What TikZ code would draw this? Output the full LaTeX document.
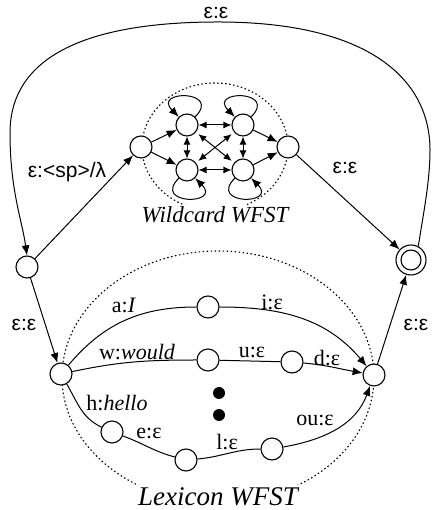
\documentclass[tikz,border=0pt]{standalone}
\usepackage{fontspec}
\setmainfont{Liberation Serif}
\newfontfamily\lblsans{Liberation Sans}
\usetikzlibrary{arrows.meta}

\begin{document}
\begin{tikzpicture}[x=1pt,y=1pt,
  state/.style={circle, draw, line width=1.1pt, minimum size=22pt, inner sep=0pt, fill=white},
  dotnode/.style={circle, fill=black, minimum size=12pt, inner sep=0pt},
  tr/.style={line width=1pt, -{Latex[length=10pt,width=8pt]}},
  bitr/.style={line width=1pt, {Latex[length=8pt,width=7pt]}-{Latex[length=8pt,width=7pt]}},
  plain/.style={line width=1pt},
  region/.style={line width=1.1pt, dash pattern=on 1.5pt off 2.5pt},
  sanslbl/.style={font=\lblsans\fontsize{21}{24}\selectfont, inner sep=0pt},
  serlbl/.style={font=\fontsize{22}{26}\selectfont, inner sep=0pt},
  wtitle/.style={font=\itshape\fontsize{23}{27}\selectfont, fill=white, inner sep=2pt},
  ltitle/.style={font=\itshape\fontsize{27}{31}\selectfont, fill=white, inner sep=2.5pt}
]
\useasboundingbox (0,0) rectangle (437,510);

% dotted outlines of the two sub-machines
\draw[region] (215,363) ellipse [x radius=73, y radius=64];
\draw[region] (218,133) ellipse [x radius=156, y radius=126];
\node[wtitle] (wtitle) at (215,295) {Wildcard WFST};
\node[ltitle, anchor=base] (ltitle) at (218,5) {Lexicon WFST};

% outer states
\node[state] (S) at (27,243) {};
\node[state, minimum size=30pt] (F) at (411,250) {};
\draw[line width=1.1pt] (F.center) circle [radius=10];

% wildcard machine
\node[state] (WE) at (141,363) {};
\node[state] (TL) at (187,385) {};
\node[state] (BL) at (187,340) {};
\node[state] (TR) at (243,385) {};
\node[state] (BR) at (243,340) {};
\node[state] (WX) at (288,363) {};

\draw[tr] (WE) -- (TL);
\draw[tr] (WE) -- (BL);
\draw[tr] (TR) -- (WX);
\draw[tr] (BR) -- (WX);
\draw[bitr] (TL) -- (TR);
\draw[bitr] (BL) -- (BR);
\draw[bitr] (TL) -- (BL);
\draw[bitr] (TR) -- (BR);
\draw[bitr, shorten <=3pt, shorten >=3pt] (TL) -- (BR);
\draw[bitr, shorten <=3pt, shorten >=3pt] (BL) -- (TR);
\draw[tr] (TL.45) to[out=45, in=135, looseness=6] (TL.135);
\draw[tr] (TR.45) to[out=45, in=135, looseness=6] (TR.135);
\draw[tr] (BL.-135) to[out=-135, in=-45, looseness=6] (BL.-45);
\draw[tr] (BR.-135) to[out=-135, in=-45, looseness=6] (BR.-45);

% lexicon machine
\node[state] (LS) at (61,136) {};
\node[state] (LE) at (374,135) {};
\node[state] (A) at (208,203) {};
\node[state] (W) at (208,150) {};
\node[state] (U) at (292,148) {};
\node[state] (H) at (112,78) {};
\node[state] (E) at (186,50) {};
\node[state] (L) at (272,61) {};
\node[dotnode] (dot1) at (219,117) {};
\node[dotnode] (dot2) at (219,95) {};

\draw[plain] (LS) to[out=50, in=180] (A);
\draw[tr] (A) to[out=0, in=130] (LE);
\draw[plain] (LS) to[out=12, in=180] (W);
\draw[plain] (W) -- (U);
\draw[tr] (U) to[out=-5, in=170] (LE);
\draw[plain] (LS) to[out=-60, in=155] (H);
\draw[plain] (H) to[out=-20, in=165] (E);
\draw[plain] (E) to[out=5, in=180] (L);
\draw[tr] (L) to[out=10, in=250] (LE);

\node[serlbl] (la) at (124,205) {a:\textit{I}};
\node[serlbl] (li) at (272,208) {i:ε};
\node[serlbl] (lw) at (137,158) {w:\textit{would}};
\node[serlbl] (lu) at (252,158) {u:ε};
\node[serlbl] (ld) at (327,152) {d:ε};
\node[serlbl] (lh) at (117,107) {h:\textit{hello}};
\node[serlbl] (le) at (149,77) {e:ε};
\node[serlbl] (ll) at (227,68) {l:ε};
\node[serlbl] (lou) at (315,90) {ou:ε};

% connections between the machines
\draw[tr] (S) -- (WE);
\draw[tr] (S) -- (LS);
\draw[tr] (WX) -- (F);
\draw[tr] (LE) -- (F);
\draw[tr] (F.62) .. controls (424,300) and (430,330) .. (430,360)
  .. controls (430,430) and (370,488) .. (218,488)
  .. controls (80,488) and (10,450) .. (10,377)
  .. controls (10,320) and (22,290) .. (S.north);

\node[sanslbl] (ltop) at (216,497) {ε:ε};
\node[sanslbl] (lsp) at (67,338) {ε:<sp>/λ};
\node[sanslbl] (lleft) at (24,185) {ε:ε};
\node[sanslbl] (lwx) at (345,342) {ε:ε};
\node[sanslbl] (lright) at (416,185) {ε:ε};
\end{tikzpicture}
\end{document}
